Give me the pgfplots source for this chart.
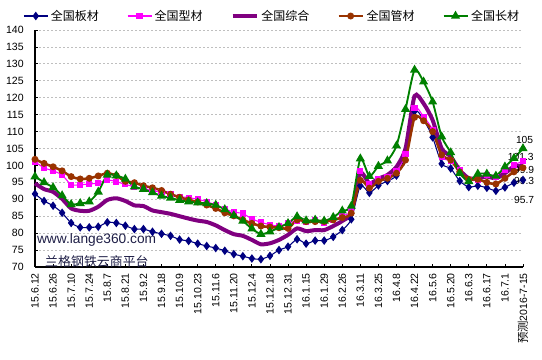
\documentclass[border=0pt]{standalone}
\usepackage{pgfplots}
\pgfplotsset{compat=1.18}
\usepackage{pgfplotstable}
\usepackage{fontspec}
\setmainfont{Liberation Sans}
\newfontfamily\cjk{Noto Sans CJK SC}
\definecolor{colB}{RGB}{0,0,128}
\definecolor{colS}{RGB}{255,0,255}
\definecolor{colZ}{RGB}{128,0,128}
\definecolor{colG}{RGB}{153,51,0}
\definecolor{colL}{RGB}{0,128,0}
\definecolor{colW}{RGB}{30,30,70}
\pgfplotstableread{
x b s z g l
0 91.6 101.1 94.7 101.8 96.7
1 89.5 99.3 93.0 100.6 95.0
2 88.1 98.4 92.2 99.6 93.5
3 86.0 97.2 90.1 98.4 91.1
4 83.0 94.3 87.3 96.7 88.5
5 81.7 94.3 86.6 96.0 88.8
6 81.7 94.5 86.6 96.2 89.3
7 81.9 94.8 87.8 96.9 92.2
8 83.2 95.7 89.8 97.7 97.2
9 83.0 95.2 90.3 97.0 97.0
10 82.2 94.4 89.5 95.3 96.0
11 81.2 93.7 88.2 94.9 93.7
12 81.2 93.2 88.0 94.0 93.0
13 80.4 92.5 86.7 93.4 92.0
14 79.8 92.2 86.2 92.6 91.0
15 79.2 91.5 85.7 91.5 90.4
16 78.1 90.8 85.0 90.6 89.7
17 77.7 90.5 84.3 89.8 89.3
18 76.9 90.0 83.7 89.2 89.0
19 76.2 89.3 83.3 88.3 88.8
20 75.6 88.3 82.3 87.3 88.3
21 74.8 87.2 80.9 86.0 87.0
22 73.8 86.2 79.7 85.1 85.2
23 73.2 85.8 79.2 83.9 83.6
24 72.5 84.2 78.0 82.9 81.3
25 72.3 83.2 76.7 82.1 79.7
26 73.3 82.5 77.0 81.8 80.4
27 75.0 82.1 78.0 81.6 81.7
28 76.0 82.9 79.5 81.4 82.9
29 78.2 83.7 81.4 83.9 84.9
30 76.9 83.4 80.6 83.4 83.7
31 77.8 83.9 80.9 83.4 83.9
32 77.8 83.1 80.9 83.4 83.6
33 78.9 83.9 82.1 83.9 84.7
34 80.9 85.1 83.6 84.6 86.6
35 84.1 86.8 86.0 85.9 88.0
36 94.0 98.4 97.7 95.6 102.0
37 91.9 94.4 94.7 93.3 96.8
38 94.1 96.1 96.1 95.3 99.8
39 95.4 96.5 97.2 96.2 101.4
40 97.0 98.3 99.6 97.7 105.8
41 103.0 103.4 105.0 101.6 116.6
42 116.0 116.9 120.5 114.2 128.2
43 113.5 114.4 118.3 113.2 124.7
44 108.3 110.5 113.4 110.0 118.8
45 100.5 102.4 105.0 103.1 108.5
46 99.1 101.4 102.6 101.6 103.8
47 95.4 98.6 98.6 98.1 97.7
48 93.6 95.7 96.2 95.9 95.3
49 94.0 95.7 96.2 95.9 97.5
50 93.4 97.2 96.7 95.0 97.5
51 92.5 96.7 96.2 94.5 96.9
52 93.5 98.6 97.7 96.2 99.6
53 94.9 100.1 99.6 98.1 102.1
54 95.7 101.3 99.9 99.3 105.0
}\data
\begin{document}
\begin{tikzpicture}
\begin{axis}[
  at={(26.25pt,69.75pt)}, anchor=south west,
  scale only axis, width=366pt, height=177.75pt,
  xmin=0, xmax=54, ymin=70, ymax=140,
  axis x line=bottom, axis y line=left, axis line style={-, black, line width=0.8pt},
  ytick={70,75,...,140}, xtick={0,2,...,54},
  xticklabels={15.6.12,15.6.26,15.7.10,15.7.24,15.8.7,15.8.21,15.9.2,15.9.18,15.10.9,15.10.23,15.11.6,15.11.20,15.12.4,15.12.18,15.12.31,16.1.15,16.1.29,16.2.26,16.3.11,16.3.25,16.4.8,16.4.22,16.5.6,16.5.20,16.6.3,16.6.17,16.7.1,{\cjk\fontsize{8.5}{9}\selectfont 预测}2016-7-15},
  tick align=inside, major tick length=2.5pt, tick style={black, line width=0.6pt},
  ymajorgrids, grid style={gray!50, dash pattern=on 1.5pt off 1.5pt, line width=0.6pt},
  tick label style={font=\fontsize{7.9}{8}\selectfont},
  /pgf/number format/assume math mode=true,
  xticklabel style={rotate=90, anchor=east, inner sep=4.5pt},
  yticklabel style={xshift=-5pt},
  clip=false,
  legend columns=5,
  legend style={draw=none, fill=none, at={(-0.0246,1.059)}, anchor=west,
    font=\cjk\fontsize{9}{10}\selectfont, inner sep=0pt,
    /tikz/every even column/.append style={column sep=19pt}},
  legend image code/.code={\draw[mark repeat=2,mark phase=2] plot coordinates {(0pt,0pt) (9pt,0pt) (18pt,0pt)};},
]
\addplot[colB, line width=0.8pt, smooth, tension=0.4, mark=diamond*, mark size=2.6pt, mark options={solid, fill=colB}] table[x=x,y=b]{\data};
\addlegendentry{全国板材}
\addplot[colS, line width=0.8pt, smooth, tension=0.4, mark=square*, mark size=1.9pt, mark options={solid, fill=colS}] table[x=x,y=s]{\data};
\addlegendentry{全国型材}
\addplot[colZ, line width=3pt, smooth, tension=0.4] table[x=x,y=z]{\data};
\addlegendentry{全国综合}
\addplot[colG, line width=1.9pt, smooth, tension=0.4, mark=*, mark size=1.6pt, mark options={solid, fill=colG}] table[x=x,y=g]{\data};
\addlegendentry{全国管材}
\addplot[colL, line width=1.4pt, smooth, tension=0.4, mark=triangle*, mark size=2.6pt, mark options={solid, fill=colL}] table[x=x,y=l]{\data};
\addlegendentry{全国长材}
\node[anchor=west, inner sep=0pt, font=\fontsize{7.7}{8}\selectfont] at (axis cs:53.2,107.5) {105};
\node[anchor=west, inner sep=0pt, font=\fontsize{7.7}{8}\selectfont] at (axis cs:52.3,102.4) {101.3};
\node[anchor=west, inner sep=0pt, font=\fontsize{7.7}{8}\selectfont] at (axis cs:53.0,98.6) {99.9};
\node[anchor=west, inner sep=0pt, font=\fontsize{7.7}{8}\selectfont] at (axis cs:53.0,95.3) {99.3};
\node[anchor=west, inner sep=0pt, font=\fontsize{7.7}{8}\selectfont] at (axis cs:53.0,89.8) {95.7};
\node[anchor=west, inner sep=0pt, font=\fontsize{10.3}{11}\selectfont, text=colW] at (axis cs:0.2,78) {www.lange360.com};
\node[anchor=west, inner sep=0pt, font=\cjk\fontsize{9.7}{10}\selectfont, text=colW] at (axis cs:1.1,71.5) {兰格钢铁云商平台};
\end{axis}
\pgfresetboundingbox
\path[use as bounding box] (0,0) rectangle (406.5pt,270pt);
\end{tikzpicture}
\end{document}
